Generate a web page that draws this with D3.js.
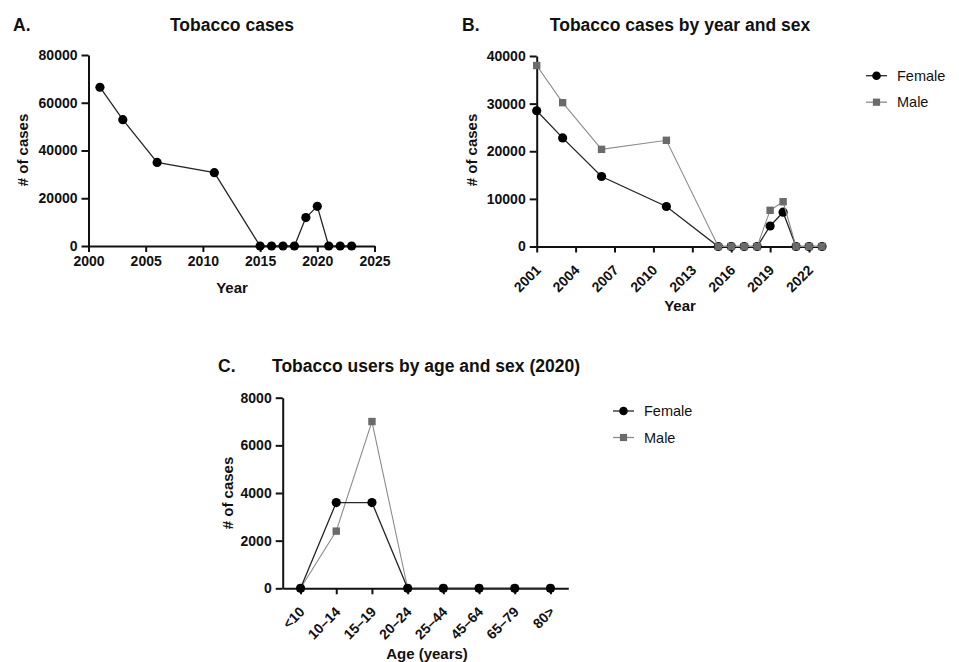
<!DOCTYPE html>
<html>
<head>
<meta charset="utf-8">
<script src="https://cdn.jsdelivr.net/npm/d3@7"></script>
<style>
  html, body { margin: 0; padding: 0; background: #fff; }
  svg { display: block; font-family: "Liberation Sans", Arial, sans-serif; }
  .tick text { font-weight: bold; font-size: 14px; fill: #111; }
  .title { font-weight: bold; font-size: 17.5px; fill: #111; }
  .axis-title { font-weight: bold; font-size: 15px; fill: #111; }
  .legend text { font-size: 14.5px; fill: #111; }
</style>
</head>
<body>
<svg id="chart" width="959" height="662"></svg>
<script>
// Panel A: total tobacco cases per year
const yearsA = [2001, 2003, 2006, 2011, 2015, 2016, 2017, 2018, 2019, 2020, 2021, 2022, 2023];
const totalCases = [66500, 52900, 35000, 30700, 0, 0, 0, 0, 11900, 16600, 0, 0, 0];

// Panel B: cases by year and sex
const yearsB = [2001, 2003, 2006, 2011, 2015, 2016, 2017, 2018, 2019, 2020, 2021, 2022, 2023];
const femaleByYear = [28500, 22800, 14700, 8400, 0, 0, 0, 0, 4300, 7200, 0, 0, 0];
const maleByYear = [38000, 30200, 20400, 22300, 0, 0, 0, 0, 7600, 9400, 0, 0, 0];
const yearTicksB = [2001, 2004, 2007, 2010, 2013, 2016, 2019, 2022];

// Panel C: users by age group and sex in 2020
const ageGroups = ["<10", "10–14", "15–19", "20–24", "25–44", "45–64", "65–79", "80>"];
const femaleByAge = [0, 3600, 3600, 0, 0, 0, 0, 0];
const maleByAge = [0, 2400, 7000, 0, 0, 0, 0, 0];

const svg = d3.select("#chart");
const FEMALE_LINE = "#262626", MALE_LINE = "#8c8c8c", MALE_MARK = "#6b6b6b";

function styleAxis(g) {
  g.selectAll(".domain").attr("stroke", "#111").attr("stroke-width", 2);
  g.selectAll(".tick line").attr("stroke", "#111").attr("stroke-width", 2);
}

function drawYAxis(y, x0, ticks) {
  const g = svg.append("g").attr("transform", `translate(${x0},0)`)
    .call(d3.axisLeft(y).tickValues(ticks).tickFormat(d3.format("d")).tickSize(7).tickSizeOuter(0).tickPadding(4));
  styleAxis(g);
  return g;
}

// Slanted category/year labels under a bottom axis
function slantLabels(g) {
  g.selectAll(".tick text")
    .attr("x", 0).attr("y", 0)
    .attr("text-anchor", "end")
    .attr("dy", "0.35em")
    .attr("transform", "translate(1,21) rotate(-45)");
}

function drawSeries(x, y, xs, vals, kind) {
  const pts = xs.map((d, i) => [x(d), y(vals[i])]);
  svg.append("path").datum(pts)
    .attr("fill", "none")
    .attr("stroke", kind === "female" ? FEMALE_LINE : MALE_LINE)
    .attr("stroke-width", kind === "female" ? 1.3 : 1.1)
    .attr("d", d3.line());
  const g = svg.append("g");
  if (kind === "female") {
    g.selectAll("circle").data(pts).join("circle")
      .attr("cx", d => d[0]).attr("cy", d => d[1]).attr("r", 4.6).attr("fill", "#000");
  } else {
    const s = 7.4;
    g.selectAll("rect").data(pts).join("rect")
      .attr("x", d => d[0] - s / 2).attr("y", d => d[1] - s / 2)
      .attr("width", s).attr("height", s).attr("fill", MALE_MARK);
  }
}

function drawLegend(x0, y0) {
  const g = svg.append("g").attr("class", "legend");
  const rows = [["Female", "female"], ["Male", "male"]];
  rows.forEach(([label, kind], i) => {
    const cy = y0 + i * 26.5;
    g.append("line").attr("x1", x0).attr("x2", x0 + 21).attr("y1", cy).attr("y2", cy)
      .attr("stroke", kind === "female" ? FEMALE_LINE : MALE_LINE).attr("stroke-width", 1.3);
    if (kind === "female") {
      g.append("circle").attr("cx", x0 + 10.5).attr("cy", cy).attr("r", 4.3).attr("fill", "#000");
    } else {
      g.append("rect").attr("x", x0 + 10.5 - 3.6).attr("y", cy - 3.6).attr("width", 7.2).attr("height", 7.2).attr("fill", MALE_MARK);
    }
    g.append("text").attr("x", x0 + 31).attr("y", cy).attr("dy", "0.36em").text(label);
  });
}

function panelTitle(letter, lx, title, tx, ty) {
  svg.append("text").attr("class", "title").attr("x", lx).attr("y", ty).text(letter);
  svg.append("text").attr("class", "title").attr("x", tx).attr("y", ty)
    .attr("text-anchor", "middle").text(title);
}

function yTitle(x, cy) {
  svg.append("text").attr("class", "axis-title")
    .attr("transform", `translate(${x},${cy}) rotate(-90)`)
    .attr("text-anchor", "middle").text("# of cases");
}

// ---------- Panel A ----------
{
  const x = d3.scaleLinear().domain([2000, 2025]).range([88.5, 374.5]);
  const y = d3.scaleLinear().domain([0, 80000]).range([246, 55]);
  const gx = svg.append("g").attr("transform", "translate(0,246)")
    .call(d3.axisBottom(x).tickValues([2000, 2005, 2010, 2015, 2020, 2025]).tickFormat(d3.format("d"))
      .tickSize(6).tickSizeOuter(0).tickPadding(4));
  styleAxis(gx);
  drawYAxis(y, 88.5, [0, 20000, 40000, 60000, 80000]);
  drawSeries(x, y, yearsA, totalCases, "female");
  panelTitle("A.", 13, "Tobacco cases", 232, 31);
  svg.append("text").attr("class", "axis-title").attr("x", 232).attr("y", 293).attr("text-anchor", "middle").text("Year");
  yTitle(28, 150);
}

// ---------- Panel B ----------
{
  const x = d3.scaleLinear().domain([2001, 2023]).range([536.7, 822]);
  const y = d3.scaleLinear().domain([0, 40000]).range([246.5, 56]);
  const gx = svg.append("g").attr("transform", "translate(0,246.5)")
    .call(d3.axisBottom(x).tickValues(yearTicksB).tickFormat(d3.format("d"))
      .tickSize(6).tickSizeOuter(0).tickPadding(4));
  styleAxis(gx);
  slantLabels(gx);
  drawYAxis(y, 536.7, [0, 10000, 20000, 30000, 40000]);
  drawSeries(x, y, yearsB, femaleByYear, "female");
  drawSeries(x, y, yearsB, maleByYear, "male");
  panelTitle("B.", 462, "Tobacco cases by year and sex", 680, 31);
  svg.append("text").attr("class", "axis-title").attr("x", 680).attr("y", 311).attr("text-anchor", "middle").text("Year");
  yTitle(477, 150);
  drawLegend(866, 75.7);
}

// ---------- Panel C ----------
{
  const x = d3.scalePoint().domain(ageGroups).range([282.7, 568.3]).padding(0.5);
  const y = d3.scaleLinear().domain([0, 8000]).range([588.3, 397.7]);
  const gx = svg.append("g").attr("transform", "translate(0,588.3)")
    .call(d3.axisBottom(x).tickSize(6).tickSizeOuter(0).tickPadding(4));
  styleAxis(gx);
  slantLabels(gx);
  drawYAxis(y, 282.7, [0, 2000, 4000, 6000, 8000]);
  drawSeries(x, y, ageGroups, maleByAge, "male");
  drawSeries(x, y, ageGroups, femaleByAge, "female");
  panelTitle("C.", 218, "Tobacco users by age and sex (2020)", 426, 372);
  svg.append("text").attr("class", "axis-title").attr("x", 427).attr("y", 659).attr("text-anchor", "middle").text("Age (years)");
  yTitle(233, 493);
  drawLegend(613, 411);
}
</script>
</body>
</html>
